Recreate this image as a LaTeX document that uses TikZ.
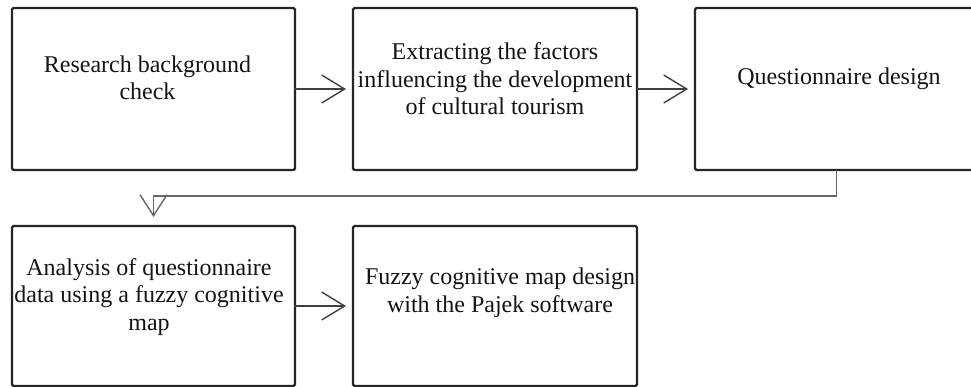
\documentclass[tikz,border=0pt]{standalone}
\usepackage{fontspec}
\setmainfont{Liberation Serif}
\usetikzlibrary{arrows.meta}
\begin{document}
\begin{tikzpicture}[x=1pt,y=-1pt,
  box/.style={draw=black!85, line width=2.2pt, rounded corners=1.5pt, outer sep=0pt, inner sep=0pt, fill=none},
  lbl/.style={anchor=base, align=center, inner sep=0pt, text=black!92, font=\fontsize{24}{27.5}\selectfont},
  flow/.style={draw=black!75, line width=1.4pt, -{Straight Barb[length=23pt,width=28pt,line width=1.4pt]}},
  loopline/.style={draw=black!60, line width=1.4pt, -{Straight Barb[length=21pt,width=27pt,line width=1.4pt]}}]
\useasboundingbox (0,0) rectangle (971,387);
\clip (0,0) rectangle (971,387);
\fill[white] (0,0) rectangle (971,387);
\node[box, minimum width=283pt, minimum height=162pt] (b1) at (153.5,89) {};
\node[box, minimum width=284pt, minimum height=162pt] (b2) at (495,89) {};
\node[box, minimum width=283pt, minimum height=162pt] (b3) at (836.5,89) {};
\node[box, minimum width=283pt, minimum height=160pt] (b4) at (153.5,306) {};
\node[box, minimum width=284pt, minimum height=160pt] (b5) at (495,306) {};
\node[lbl] (t1) at (147.5,100) {Research background\\check};
\node[lbl] (t2) at (495,115) {Extracting the factors\\influencing the development\\of cultural tourism};
\node[lbl] (t3) at (839,85) {Questionnaire design};
\node[lbl] (t4) at (149,330) {Analysis of questionnaire\\data using a fuzzy cognitive\\map};
\node[lbl] (t5) at (500,312) {Fuzzy cognitive map design\\with the Pajek software};
\draw[flow] (b1.east) -- ([xshift=-7pt]b2.west);
\draw[flow] (b2.east) -- ([xshift=-7pt]b3.west);
\draw[flow] (b4.east) -- ([xshift=-7pt]b5.west);
\draw[loopline] (b3.south) -- ++(0,26) -| ([yshift=9pt]b4.north);
\end{tikzpicture}
\end{document}
